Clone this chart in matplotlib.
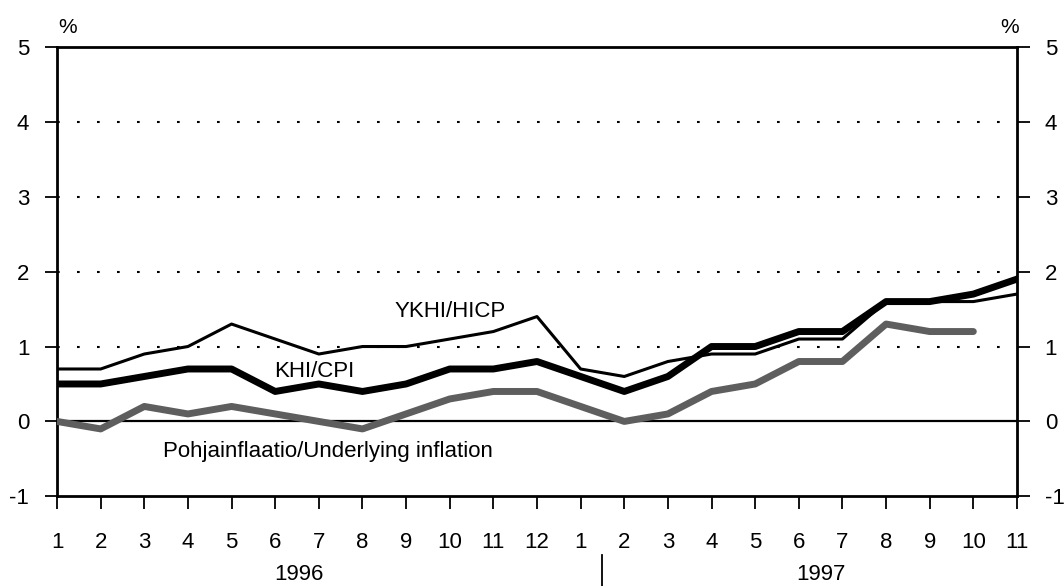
import matplotlib
matplotlib.use("Agg")
import matplotlib.pyplot as plt
from matplotlib import font_manager

months = ["1","2","3","4","5","6","7","8","9","10","11","12",
          "1","2","3","4","5","6","7","8","9","10","11"]
years = ["1996", "1997"]
hicp = [0.7,0.7,0.9,1.0,1.3,1.1,0.9,1.0,1.0,1.1,1.2,1.4,
        0.7,0.6,0.8,0.9,0.9,1.1,1.1,1.6,1.6,1.6,1.7]
cpi = [0.5,0.5,0.6,0.7,0.7,0.4,0.5,0.4,0.5,0.7,0.7,0.8,
       0.6,0.4,0.6,1.0,1.0,1.2,1.2,1.6,1.6,1.7,1.9]
underlying = [0.0,-0.1,0.2,0.1,0.2,0.1,0.0,-0.1,0.1,0.3,0.4,0.4,
              0.2,0.0,0.1,0.4,0.5,0.8,0.8,1.3,1.2,1.2]

names = {f.name for f in font_manager.fontManager.ttflist}
fam = "Liberation Sans Narrow" if "Liberation Sans Narrow" in names else "Liberation Sans"
plt.rcParams['font.family'] = [fam, 'DejaVu Sans']
plt.rcParams['axes.unicode_minus'] = False

fig = plt.figure(figsize=(10.64, 5.86), dpi=100)
ax = fig.add_axes([0.0536, 0.153, 0.9022, 0.767])

x = list(range(len(months)))
ax.plot(x[:len(underlying)], underlying, color='#5e5e5e', lw=5, solid_capstyle='round', zorder=3)
ax.plot(x, hicp, color='black', lw=2.2, zorder=4)
ax.plot(x, cpi, color='black', lw=5, zorder=5)

ax.axhline(0, color='black', lw=1.6, zorder=2)
for yv in [1, 2, 3, 4]:
    ax.axhline(yv, color='black', lw=1.5, linestyle=(0, (1.3, 8.3)), zorder=1)

ax.set_xlim(0, len(months) - 1)
ax.set_ylim(-1, 5)
for s in ax.spines.values():
    s.set_linewidth(2)

ax.set_xticks(x)
ax.set_xticklabels(months)
ax.set_yticks(range(-1, 6))
ax.tick_params(axis='x', direction='out', length=9, width=1.3, labelsize=16, pad=17)
ax.tick_params(axis='y', direction='out', length=9, width=1.3, labelsize=16, pad=11,
               left=True, right=True, labelleft=True, labelright=True)

ax.text(9.0, 1.47, "YKHI/HICP", fontsize=16, ha='center', va='center')
ax.text(5.9, 0.67, "KHI/CPI", fontsize=16, ha='center', va='center')
ax.text(6.2, -0.4, "Pohjainflaatio/Underlying inflation", fontsize=16, ha='center', va='center')

trans = ax.get_xaxis_transform()
ax.text(5.55, -0.173, years[0], fontsize=16, ha='center', va='center', transform=trans)
ax.text(17.5, -0.173, years[1], fontsize=16, ha='center', va='center', transform=trans)
ax.plot([12.5, 12.5], [-0.13, -0.2], color='black', lw=1.3, transform=trans, clip_on=False)

ax.text(0.011, 1.044, "%", fontsize=15, ha='center', va='center', transform=ax.transAxes)
ax.text(0.992, 1.044, "%", fontsize=15, ha='center', va='center', transform=ax.transAxes)

fig.savefig("out.png", dpi=100)
